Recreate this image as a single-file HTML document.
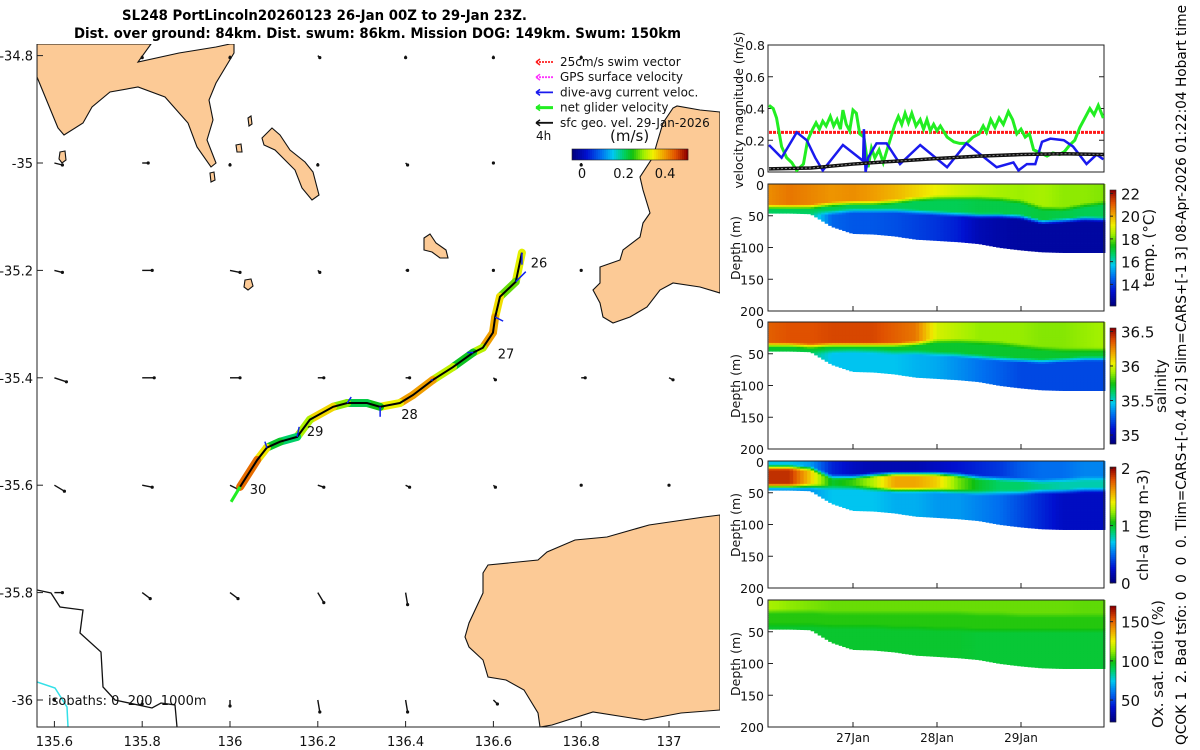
<!DOCTYPE html>
<html><head><meta charset="utf-8"><title>SL248 glider summary</title>
<style>
html,body{margin:0;padding:0;background:#fff;}
svg{display:block;font-family:"DejaVu Sans","Liberation Sans",sans-serif;}
</style></head>
<body>
<svg id="fig" width="1200" height="750" viewBox="0 0 1200 750" xmlns="http://www.w3.org/2000/svg">
<defs><clipPath id="mapclip"><rect x="37" y="44" width="683" height="683"/></clipPath></defs>
<text x="122" y="20" font-size="14" font-weight="bold" textLength="405" lengthAdjust="spacingAndGlyphs">SL248 PortLincoln20260123 26-Jan 00Z to 29-Jan 23Z.</text>
<text x="74" y="38" font-size="14" font-weight="bold" textLength="607" lengthAdjust="spacingAndGlyphs">Dist. over ground: 84km. Dist. swum: 86km. Mission DOG: 149km. Swum: 150km</text>
<g id="map"></g>
<g id="vel"></g>
<g id="sections"></g>
<text transform="translate(1186,375) rotate(-90)" text-anchor="middle" font-size="14" textLength="740" lengthAdjust="spacingAndGlyphs">QCOK 1&#160; 2. Bad tsfo: 0&#160; 0&#160; 0&#160; 0. Tlim=CARS+[-0.4 0.2] Slim=CARS+[-1 3] 08-Apr-2026 01:22:04 Hobart time</text>
</svg>
<script>
// ---------- data ----------
const trackLon = [136.665,136.651,136.615,136.604,136.599,136.576,136.554,136.508,136.462,136.417,136.387,136.342,136.312,136.267,136.235,136.182,136.153,136.114,136.084,136.062,136.023];
const trackLat = [-35.167,-35.221,-35.249,-35.287,-35.316,-35.344,-35.353,-35.380,-35.404,-35.432,-35.447,-35.454,-35.447,-35.447,-35.454,-35.478,-35.510,-35.519,-35.530,-35.553,-35.603];
const trackSpeed = [0.45,0.22,0.33,0.38,0.40,0.40,0.22,0.25,0.38,0.42,0.38,0.30,0.18,0.25,0.33,0.39,0.22,0.18,0.28,0.42,0.45];
const gridLon = [135.6,135.8,136.0,136.2,136.4,136.6,136.8,137.0];
const gridLat = [-34.8,-35.0,-35.2,-35.4,-35.6,-35.8,-36.0];
const geoU = [
 [null,0.00,0.00,0.01,0.00,0.00,0.00,null],
 [0.04,0.03,0.00,0.00,0.01,0.00,0.00,null],
 [0.04,0.05,0.05,0.01,0.01,0.00,0.00,null],
 [0.06,0.06,0.05,0.03,0.02,0.01,0.02,0.02],
 [0.05,0.05,0.04,0.03,0.02,0.01,0.00,0.00],
 [0.04,0.04,0.04,0.03,0.01,null,null,null],
 [0.00,0.00,0.00,0.01,0.01,0.02,null,null]];
const geoV = [
 [null,-0.01,-0.01,-0.01,-0.01,-0.01,-0.01,null],
 [-0.01,0.00,-0.01,-0.01,-0.01,0.00,-0.01,null],
 [-0.01,0.00,-0.01,-0.01,0.00,0.00,0.00,null],
 [-0.02,0.00,0.00,0.00,0.00,-0.01,0.00,-0.01],
 [-0.03,-0.01,-0.02,-0.01,-0.01,-0.01,0.00,0.00],
 [0.00,-0.03,-0.03,-0.05,-0.06,null,null,null],
 [0.00,-0.02,-0.03,-0.06,-0.06,-0.02,null,null]];
const dayLabels = ["26","27","28","29","30"];
const dayLabelLon = [136.685,136.610,136.390,136.175,136.045];
const dayLabelLat = [-35.185,-35.355,-35.467,-35.499,-35.607];
const mapLonTicks = [135.6,135.8,136,136.2,136.4,136.6,136.8,137];
const mapLatTicks = [-34.8,-35,-35.2,-35.4,-35.6,-35.8,-36];

// velocity panel
const greenDay = [0,0.05,0.09,0.15,0.21,0.27,0.33,0.41,0.46,0.52,0.56,0.60,0.64,0.68,0.73,0.77,0.81,0.85,0.88,0.92,0.96,1.00,1.04,1.08,1.13,1.18,1.22,1.26,1.31,1.36,1.44,1.50,1.54,1.58,1.62,1.66,1.70,1.75,1.80,1.84,1.88,1.92,1.96,2.00,2.04,2.12,2.20,2.27,2.35,2.43,2.50,2.55,2.59,2.64,2.69,2.74,2.79,2.85,2.90,2.95,3.00,3.05,3.10,3.15,3.23,3.31,3.38,3.46,3.52,3.58,3.64,3.70,3.76,3.82,3.87,3.92,3.98];
const greenVal = [0.42,0.40,0.34,0.16,0.09,0.06,0.01,0.05,0.20,0.27,0.31,0.27,0.32,0.29,0.35,0.29,0.33,0.27,0.39,0.30,0.26,0.39,0.37,0.24,0.22,0.03,0.15,0.09,0.14,0.06,0.20,0.30,0.35,0.30,0.37,0.31,0.37,0.29,0.33,0.27,0.33,0.26,0.30,0.26,0.29,0.22,0.19,0.18,0.18,0.22,0.24,0.29,0.25,0.33,0.28,0.34,0.30,0.38,0.33,0.24,0.27,0.22,0.24,0.14,0.12,0.10,0.12,0.11,0.13,0.17,0.20,0.28,0.34,0.40,0.36,0.42,0.34];
const blueDay = [0,0.15,0.33,0.45,0.55,0.64,0.73,0.88,1.12,1.13,1.15,1.18,1.28,1.40,1.56,1.80,2.12,2.35,2.71,2.91,2.97,3.07,3.17,3.25,3.35,3.51,3.62,3.78,3.90,3.98];
const blueVal = [0.17,0.09,0.25,0.20,0.09,0.01,0.07,0.17,0.07,0.27,0.00,0.09,0.18,0.18,0.05,0.17,0.03,0.18,0.03,0.06,0.01,0.05,0.05,0.19,0.21,0.20,0.16,0.05,0.11,0.08];
const blackDay = [0,0.5,1,1.5,2,2.5,3,3.5,4];
const blackVal = [0.02,0.025,0.05,0.068,0.085,0.1,0.11,0.115,0.11];
const swimRef = [0.25];
const velTicks = [0,0.2,0.4,0.6,0.8];
const dateTicks = [1,2,3];
const dateLabels = ["27Jan","28Jan","29Jan"];

// section data on grid of days 0..4 step 0.25
const secDay = [0,0.25,0.5,0.75,1,1.25,1.5,1.75,2,2.25,2.5,2.75,3,3.25,3.5,3.75,4];
const bottomDepth = [46,46,47,67,78,79,82,87,89,91,94,100,104,107,108,108,108];
const tSurf = [20.5,20.8,20.6,20.4,20.5,20.3,20.0,19.6,19.2,18.9,18.7,18.5,18.4,18.5,18.3,18.3,18.2];
const tMid = [16.8,16.8,16.8,16.8,16.8,16.8,16.8,16.8,16.8,16.8,16.9,16.9,16.9,17.0,16.9,16.8,16.8];
const tD1 = [36,36,36,32,30,30,28,24,22,22,22,24,28,38,40,34,30];
const tD2 = [46,46,46,45,42,42,42,44,46,48,50,50,52,60,58,55,56];
const tDeep = [16.5,16.5,16.5,14.5,14.3,14.3,14.2,14.0,13.8,13.5,12.9,12.7,12.6,12.6,12.6,12.6,12.6];
const sSurf = [36.35,36.38,36.38,36.40,36.40,36.40,36.35,36.30,36.00,35.95,35.90,35.90,35.90,35.88,35.88,35.90,35.92];
const sMid = [35.7,35.7,35.7,35.7,35.7,35.7,35.7,35.7,35.7,35.7,35.7,35.7,35.7,35.7,35.7,35.7,35.7];
const sD1 = [36,36,38,36,36,36,36,34,30,30,32,34,38,42,44,44,44];
const sD2 = [48,48,48,46,45,46,48,48,50,52,55,58,60,62,60,58,58];
const sDeep = [35.6,35.6,35.6,35.45,35.45,35.45,35.45,35.42,35.40,35.35,35.30,35.25,35.20,35.20,35.20,35.20,35.20];
const cSurf = [0.7,0.7,0.6,0.3,0.2,0.15,0.15,0.15,0.2,0.25,0.3,0.35,0.45,0.5,0.5,0.55,0.55];
const cMid = [1.9,1.9,1.5,1.0,1.1,1.3,1.6,1.6,1.5,1.2,1.0,0.9,0.9,0.85,0.8,0.8,0.8];
const cD1 = [10,10,12,25,25,22,20,20,20,22,26,28,30,32,30,28,28];
const cD2 = [40,40,40,42,42,44,46,46,46,48,50,50,50,48,48,46,46];
const cDeep = [0.6,0.6,0.6,0.7,0.7,0.7,0.65,0.65,0.6,0.6,0.55,0.5,0.4,0.3,0.2,0.2,0.2];
const oSurf = [115,112,110,108,108,108,108,108,108,108,108,108,108,108,108,107,107];
const oMid = [101,101,101,101,101,101,101,101,101,101,101,101,101,101,101,101,101];
const oD1 = [18,18,18,20,20,20,20,20,20,20,22,22,24,24,24,24,24];
const oD2 = [40,40,40,42,42,42,44,44,46,46,48,48,48,48,48,48,48];
const oDeep = [95,95,95,95,95,95,95,95,95,95,94,94,94,94,94,94,94];
const depthTicks = [0,50,100,150,200];
const tTicks = [14,16,18,20,22];
const sTicks = [35,35.5,36,36.5];
const sTickLabels = ["35","35.5","36","36.5"];
const cTicks = [0,1,2];
const oTicks = [50,100,150];
const mapCbarTicks = [0,0.2,0.4];
const mapCbarLabels = ["0","0.2","0.4"];

// ---------- helpers ----------
const NS = "http://www.w3.org/2000/svg";
function mk(tag, attrs, parent){const e=document.createElementNS(NS,tag);for(const k in attrs)e.setAttribute(k,attrs[k]);if(parent)parent.appendChild(e);return e;}
function cl(v){return Math.max(0,Math.min(1,v));}
const cmapPos=[0,0.12,0.25,0.35,0.45,0.52,0.62,0.70,0.80,0.90,1.0];
const cmapRGB=[[0,0,128],[0,16,208],[0,112,240],[0,200,240],[0,208,96],[16,192,16],[160,240,0],[240,240,0],[240,160,0],[224,80,0],[144,0,0]];
function jet(t){t=cl(t);let i=1;while(i<cmapPos.length-1&&t>cmapPos[i])i++;const f=(t-cmapPos[i-1])/(cmapPos[i]-cmapPos[i-1]);const a=cmapRGB[i-1],b=cmapRGB[i];return `rgb(${Math.round(a[0]+f*(b[0]-a[0]))},${Math.round(a[1]+f*(b[1]-a[1]))},${Math.round(a[2]+f*(b[2]-a[2]))})`;}
function interp(xs,ys,x){if(x<=xs[0])return ys[0];for(let i=1;i<xs.length;i++){if(x<=xs[i]){const f=(x-xs[i-1])/(xs[i]-xs[i-1]);return ys[i-1]+f*(ys[i]-ys[i-1]);}}return ys[ys.length-1];}
function txt(parent,x,y,s,size,anchor,name){const t=mk("text",{x:x,y:y,"font-size":size,"text-anchor":anchor||"start",fill:"#111"},parent);t.textContent=s;return t;}

// ---------- map ----------
const map=document.getElementById("map");
const X=lon=>230+(lon-136)*439;
const Y=lat=>163-(lat+35)*537;
const mg=mk("g",{"clip-path":"url(#mapclip)"},map);
const land=[
 "37,44 151,44 138,62 179,53 216,47 230,44 234,44 234,53 216,83 209,100 213,120 207,140 216,163 211,167 197,147 188,123 165,97 138,87 110,92 92,107 83,123 64,135 58,128 37,77",
 "272,128 280,135 290,150 305,162 313,172 319,195 312,200 302,188 295,170 275,150 264,145 262,138",
 "720,112 700,110 677,106 673,108 663,123 657,143 653,157 640,177 643,190 650,213 643,223 640,237 623,250 620,260 600,267 600,283 593,290 600,303 603,317 613,323 630,317 647,307 660,290 673,283 700,287 720,293",
 "720,515 704,517 649,525 607,537 575,540 547,552 538,560 488,565 483,573 483,593 469,623 465,637 469,647 483,660 488,677 506,680 524,690 538,713 540,727 552,725 593,712 644,720 681,713 720,710",
 "424,238 430,234 436,243 446,250 448,258 440,258 432,252 424,250",
 "245,280 251,279 253,286 248,290 244,287",
 "60,152 65,151 66,160 62,163 59,159",
 "210,173 214,172 215,180 211,182",
 "248,118 251,116 252,124 249,126",
 "236,145 241,144 242,152 237,152"];
land.forEach((p,i)=>{const e=mk("polygon",{points:p,fill:"#fcca96",stroke:"#111","stroke-width":1.1},mg);});
const iso1=mk("polyline",{points:"37,590 51,593 60,607 83,610 80,633 101,652 103,687 115,700 152,708 161,703 175,705 177,727",fill:"none",stroke:"#111","stroke-width":1.3},mg);

const iso2=mk("polyline",{points:"37,682 55,688 67,707 68,727",fill:"none",stroke:"#33e0e8","stroke-width":1.5},mg);

gridLat.forEach((la,i)=>gridLon.forEach((lo,j)=>{
  const u=geoU[i][j],v=geoV[i][j]; if(u===null)return;
  const x0=X(lo),y0=Y(la),x1=x0+u*200,y1=y0-v*200;
  const g=mk("g",{},mg);
  mk("line",{x1:x0,y1:y0,x2:x1,y2:y1,stroke:"#111","stroke-width":1.4},g);
  mk("circle",{cx:x1,cy:y1,r:1.6,fill:"#111"},g);
}));
const tg=mk("g",{},mg);
for(let i=0;i<trackLon.length-1;i++){
  const s=mk("line",{x1:X(trackLon[i]),y1:Y(trackLat[i]),x2:X(trackLon[i+1]),y2:Y(trackLat[i+1]),stroke:jet(((trackSpeed[i]+trackSpeed[i+1])/2+0.048)/0.558),"stroke-width":8,"stroke-linecap":"round"},tg);
  
}
const tl=mk("polyline",{points:trackLon.map((lo,i)=>X(lo)+","+Y(trackLat[i])).join(" "),fill:"none",stroke:"#000","stroke-width":2},tg);

[[0,0.0,-0.06],[1,0.05,0.05],[3,0.04,-0.02],[6,-0.03,0.0],[8,-0.01,0.0],[11,0.0,-0.05],[13,0.02,0.03],[16,0.01,0.05],[18,-0.01,0.03]].forEach(a=>{
  const x0=X(trackLon[a[0]]),y0=Y(trackLat[a[0]]);
  const b=mk("line",{x1:x0,y1:y0,x2:x0+a[1]*200,y2:y0-a[2]*200,stroke:"#1020ee","stroke-width":1.5},tg);
  
});
const ga=mk("polyline",{points:`${X(136.023)},${Y(-35.603)} ${X(136.023)-9},${Y(-35.603)+15}`,stroke:"#22ee22","stroke-width":3,fill:"none"},tg);

dayLabels.forEach((d,i)=>txt(map,X(dayLabelLon[i]),Y(dayLabelLat[i])+5,d,13,"start","day-label-"+d));
const ax=mk("path",{d:"M37,44 V727 H720",fill:"none",stroke:"#222","stroke-width":1},map);

mapLonTicks.forEach(v=>{mk("line",{x1:X(v),x2:X(v),y1:727,y2:721,stroke:"#222"},map);txt(map,X(v),746,String(v),13,"middle","lon-tick-label");});
mapLatTicks.forEach(v=>{mk("line",{x1:37,x2:43,y1:Y(v),y2:Y(v),stroke:"#222"},map);txt(map,33,Y(v)+5,String(v),13,"end","lat-tick-label");});
txt(map,48,705,"isobaths: 0\u00a0\u00a0200\u00a0\u00a01000m",13,"start","isobath-label");
const leg=[["25cm/s swim vector","#ff2020"],["GPS surface velocity","#ff33ff"],["dive-avg current veloc.","#1a1aee"],["net glider velocity","#22ee22"],["sfc geo. vel. 29-Jan-2026","#111"]];
leg.forEach((l,i)=>{const y=62+i*15.2;const g=mk("g",{},map);
 mk("line",{x1:536,x2:553,y1:y,y2:y,stroke:l[1],"stroke-width":i==3?3:1.8,"stroke-dasharray":i<2?"2,1":"none"},g);
 mk("path",{d:`M536,${y} l4,-3 M536,${y} l4,3`,stroke:l[1],"stroke-width":1.5,fill:"none"},g);
 txt(g,560,y+4,l[0],12,"start","legend-text");});
txt(map,536,140,"4h",12,"start","legend-4h");
txt(map,610,141,"(m/s)",15,"start","colorbar-unit");
for(let i=0;i<58;i++){const e=mk("rect",{x:572+i*2,y:149,width:2.2,height:11,fill:jet(i/57)},map);}
mk("rect",{x:572,y:149,width:116,height:11,fill:"none",stroke:"#222","stroke-width":0.6},map);
const CB=v=>572+(v+0.048)/0.558*116;
mapCbarTicks.forEach((v,i)=>txt(map,CB(v),178,mapCbarLabels[i],13,"middle","speed-colorbar-tick"));

// ---------- velocity panel ----------
const vel=document.getElementById("vel");
const VX=d=>769+d*84, VY=v=>172-v/0.8*127;
mk("rect",{x:768,y:45,width:336,height:127,fill:"#fff",stroke:"#222"},vel);
velTicks.forEach(v=>{mk("line",{x1:768,x2:773,y1:VY(v),y2:VY(v),stroke:"#222"},vel);mk("line",{x1:1104,x2:1099,y1:VY(v),y2:VY(v),stroke:"#222"},vel);txt(vel,765,VY(v)+5,String(v),12.5,"end","velocity-tick-label");});
const vclip=mk("clipPath",{id:"vclip"},vel);mk("rect",{x:768,y:45,width:336,height:127},vclip);
const vg=mk("g",{"clip-path":"url(#vclip)"},vel);
const pts=(ds,vs)=>ds.map((d,i)=>VX(d)+","+VY(vs[i])).join(" ");
let e;
e=mk("line",{x1:VX(0),x2:VX(4),y1:VY(swimRef[0]),y2:VY(swimRef[0]),stroke:"#ff1a1a","stroke-width":3,"stroke-dasharray":"3,1"},vg);
e=mk("polyline",{points:pts(greenDay,greenVal),fill:"none",stroke:"#22ee22","stroke-width":3},vg);
e=mk("polyline",{points:pts(blueDay,blueVal),fill:"none",stroke:"#1a1aee","stroke-width":2.5},vg);
e=mk("polyline",{points:pts(blackDay,blackVal),fill:"none",stroke:"#111","stroke-width":3.5},vg);
mk("polyline",{points:pts(blackDay,blackVal),fill:"none",stroke:"#888","stroke-width":1,"stroke-dasharray":"2,2"},vg);
e=mk("text",{transform:"translate(743,110) rotate(-90)","text-anchor":"middle","font-size":12.5,fill:"#111"},vel);e.textContent="velocity magnitude (m/s)";

// ---------- sections ----------
const sec=document.getElementById("sections");
const panels=[
 {top:184,surf:tSurf,mid:tMid,d1:tD1,d2:tD2,deep:tDeep,lo:12.1,hi:22.3,ticks:tTicks,labels:tTicks.map(String),title:"temp. (°C)",tx:1154,name:"temperature"},
 {top:322,surf:sSurf,mid:sMid,d1:sD1,d2:sD2,deep:sDeep,lo:34.87,hi:36.55,ticks:sTicks,labels:sTickLabels,title:"salinity",tx:1166,name:"salinity"},
 {top:461,surf:cSurf,mid:cMid,d1:cD1,d2:cD2,deep:cDeep,lo:0,hi:2.02,ticks:cTicks,labels:cTicks.map(String),title:"chl-a (mg m-3)",tx:1148,name:"chlorophyll"},
 {top:600,surf:oSurf,mid:oMid,d1:oD1,d2:oD2,deep:oDeep,lo:22,hi:170,ticks:oTicks,labels:oTicks.map(String),title:"Ox. sat. ratio (%)",tx:1163,name:"oxygen"}];
panels.forEach(p=>{
  const g=mk("g",{},sec);
  const DY=d=>p.top+d/200*127;
  mk("rect",{x:768,y:p.top,width:336,height:127,fill:"#fff",stroke:"#222"},g);
  const cells=mk("g",{},g);
  const ncol=96;
  for(let c=0;c<ncol;c++){
    const d=(c+0.5)/ncol*4;
    const bot=interp(secDay,bottomDepth,d);
    const s=interp(secDay,p.surf,d),m=interp(secDay,p.mid,d),dp=interp(secDay,p.deep,d);
    const a=interp(secDay,p.d1,d),b=interp(secDay,p.d2,d);
    for(let z=0;z<bot;z+=3){
      const zc=z+1.5;let v;
      if(zc<a-4)v=s;else if(zc<a+4)v=s+(m-s)*(zc-a+4)/8;else if(zc<b-4)v=m;else if(zc<b+4)v=m+(dp-m)*(zc-b+4)/8;else v=dp;
      const h=Math.min(3,bot-z);
      const r=mk("rect",{x:(VX(c/ncol*4)-0.3).toFixed(2),y:DY(z).toFixed(2),width:(336/ncol+0.7).toFixed(2),height:(h/200*127+0.4).toFixed(2),fill:jet((v-p.lo)/(p.hi-p.lo))},cells);
      
      
    }
  }
  mk("rect",{x:768,y:p.top,width:336,height:127,fill:"none",stroke:"#222"},g);
  depthTicks.forEach(v=>{mk("line",{x1:768,x2:773,y1:DY(v),y2:DY(v),stroke:"#222"},g);txt(g,764,DY(v)+(v==0?6:5),String(v),12.5,"end","depth-tick-label");});
  dateTicks.forEach(d=>mk("line",{x1:VX(d),x2:VX(d),y1:p.top+127,y2:p.top+122,stroke:"#222"},g));
  const t=mk("text",{transform:`translate(740,${p.top+64}) rotate(-90)`,"text-anchor":"middle","font-size":12.5,fill:"#111"},g);t.textContent="Depth (m)";
  const cb0=p.top+6,cbh=116;
  for(let i=0;i<58;i++){const r=mk("rect",{x:1110,y:cb0+cbh-(i+1)*2,width:6,height:2.2,fill:jet(i/57)},g);}
  mk("rect",{x:1110,y:cb0,width:6,height:cbh,fill:"none",stroke:"#222","stroke-width":0.6},g);
  p.ticks.forEach((v,i)=>{const y=cb0+cbh-(v-p.lo)/(p.hi-p.lo)*cbh;mk("line",{x1:1110,x2:1113,y1:y,y2:y,stroke:"#222"},g);txt(g,1121,y+6,p.labels[i],15,"start","colorbar-tick-label");});
  const ct=mk("text",{transform:`translate(${p.tx},${cb0+cbh/2}) rotate(-90)`,"text-anchor":"middle","font-size":15,fill:"#111"},g);ct.textContent=p.title;
});
dateTicks.forEach((d,i)=>txt(sec,VX(d),742,dateLabels[i],12,"middle","date-tick-label"));
</script>
</body></html>
